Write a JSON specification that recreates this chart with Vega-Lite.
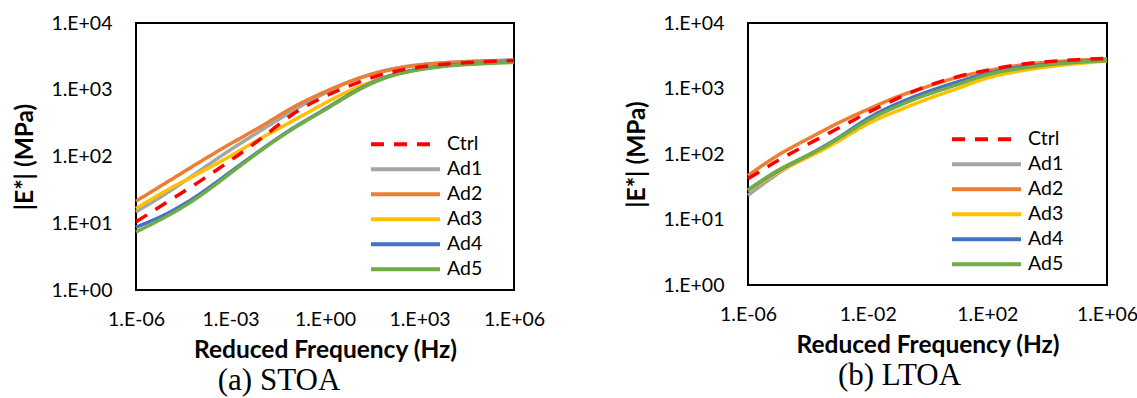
{
  "$schema": "https://vega.github.io/schema/vega-lite/v6.json",
  "background": "white",
  "padding": {"left": 11, "top": 12, "right": 0, "bottom": 0},
  "autosize": {"type": "pad"},
  "config": {
    "font": "Lato",
    "view": {"stroke": "black", "strokeWidth": 2},
    "axis": {
      "grid": false, "ticks": false, "tickSize": 0, "domain": false, "labelFlush": false,
      "labelFont": "Lato", "labelFontSize": 19.5, "labelColor": "black",
      "titleFont": "Lato", "titleFontSize": 24.5, "titleFontWeight": "bold", "titleColor": "black"
    },
    "legend": {
      "orient": "none", "title": null, "symbolType": "stroke", "symbolSize": 4761,
      "symbolStrokeWidth": 4, "clipHeight": 24.4, "rowPadding": 0, "labelOffset": 5,
      "labelFont": "Lato", "labelFontSize": 19.5, "labelColor": "black", "padding": 0, "symbolOffset": 0
    },
    "title": {"font": "Liberation Serif", "fontSize": 31, "fontWeight": "normal", "color": "black"}
  },
  "spacing": 77,
  "datasets": {
    "stoa": [
      {"f": 1e-6, "Ctrl": 10.5, "Ad1": 14.8, "Ad2": 21.4, "Ad3": 16.6, "Ad4": 8.71, "Ad5": 7.41},
      {"f": 1e-5, "Ctrl": 20.9, "Ad1": 28.8, "Ad2": 41.7, "Ad3": 31.6, "Ad4": 14.1, "Ad5": 12.9},
      {"f": 1e-4, "Ctrl": 41.7, "Ad1": 60.3, "Ad2": 81.3, "Ad3": 56.2, "Ad4": 26.9, "Ad5": 25.1},
      {"f": 1e-3, "Ctrl": 87.1, "Ad1": 126, "Ad2": 155, "Ad3": 102, "Ad4": 58.9, "Ad5": 56.2},
      {"f": 1e-2, "Ctrl": 191, "Ad1": 251, "Ad2": 288, "Ad3": 191, "Ad4": 129, "Ad5": 126},
      {"f": 1e-1, "Ctrl": 437, "Ad1": 490, "Ad2": 550, "Ad3": 347, "Ad4": 269, "Ad5": 263},
      {"f": 1, "Ctrl": 794, "Ad1": 891, "Ad2": 933, "Ad3": 631, "Ad4": 513, "Ad5": 501},
      {"f": 10, "Ctrl": 1259, "Ad1": 1445, "Ad2": 1445, "Ad3": 1072, "Ad4": 977, "Ad5": 955},
      {"f": 100, "Ctrl": 1778, "Ad1": 1995, "Ad2": 1950, "Ad3": 1585, "Ad4": 1585, "Ad5": 1549},
      {"f": 1000, "Ctrl": 2188, "Ad1": 2371, "Ad2": 2344, "Ad3": 2042, "Ad4": 2042, "Ad5": 1995},
      {"f": 1e4, "Ctrl": 2455, "Ad1": 2570, "Ad2": 2570, "Ad3": 2344, "Ad4": 2344, "Ad5": 2291},
      {"f": 1e5, "Ctrl": 2630, "Ad1": 2692, "Ad2": 2692, "Ad3": 2512, "Ad4": 2512, "Ad5": 2455},
      {"f": 1e6, "Ctrl": 2754, "Ad1": 2786, "Ad2": 2754, "Ad3": 2630, "Ad4": 2630, "Ad5": 2570}
    ],
    "ltoa": [
      {"f": 1e-6, "Ctrl": 41.7, "Ad1": 23.4, "Ad2": 46.8, "Ad3": 27.5, "Ad4": 28.2, "Ad5": 28.2},
      {"f": 1e-5, "Ctrl": 79.4, "Ad1": 50.1, "Ad2": 95.5, "Ad3": 52.5, "Ad4": 55.0, "Ad5": 56.2},
      {"f": 1e-4, "Ctrl": 141, "Ad1": 95.5, "Ad2": 170, "Ad3": 89.1, "Ad4": 95.5, "Ad5": 95.5},
      {"f": 1e-3, "Ctrl": 245, "Ad1": 174, "Ad2": 295, "Ad3": 155, "Ad4": 174, "Ad5": 170},
      {"f": 1e-2, "Ctrl": 427, "Ad1": 339, "Ad2": 479, "Ad3": 288, "Ad4": 347, "Ad5": 324},
      {"f": 1e-1, "Ctrl": 708, "Ad1": 575, "Ad2": 750, "Ad3": 457, "Ad4": 589, "Ad5": 537},
      {"f": 1, "Ctrl": 1096, "Ad1": 851, "Ad2": 1072, "Ad3": 692, "Ad4": 891, "Ad5": 812},
      {"f": 10, "Ctrl": 1514, "Ad1": 1202, "Ad2": 1479, "Ad3": 1000, "Ad4": 1259, "Ad5": 1148},
      {"f": 100, "Ctrl": 1905, "Ad1": 1660, "Ad2": 1862, "Ad3": 1445, "Ad4": 1698, "Ad5": 1622},
      {"f": 1000, "Ctrl": 2291, "Ad1": 2042, "Ad2": 2239, "Ad3": 1820, "Ad4": 2089, "Ad5": 1995},
      {"f": 1e4, "Ctrl": 2570, "Ad1": 2344, "Ad2": 2512, "Ad3": 2138, "Ad4": 2344, "Ad5": 2291},
      {"f": 1e5, "Ctrl": 2754, "Ad1": 2512, "Ad2": 2692, "Ad3": 2399, "Ad4": 2570, "Ad5": 2512},
      {"f": 1e6, "Ctrl": 2884, "Ad1": 2692, "Ad2": 2818, "Ad3": 2630, "Ad4": 2692, "Ad5": 2692}
    ]
  },
  "hconcat": [
    {
      "width": 378,
      "height": 267,
      "data": {"name": "stoa"},
      "transform": [{"fold": ["Ad1", "Ad2", "Ad3", "Ad4", "Ad5", "Ctrl"], "as": ["series", "E"]}],
      "mark": {"type": "line", "interpolate": "natural", "strokeWidth": 3.5},
      "encoding": {
        "x": {
          "field": "f", "type": "quantitative",
          "scale": {"type": "log", "domain": [1e-6, 1e6]},
          "axis": {
            "values": [1e-6, 1e-3, 1, 1e3, 1e6],
            "labelExpr": "'1.E' + (datum.value < 1 ? '-' : '+') + (abs(round(log(datum.value) / LN10)) < 10 ? '0' : '') + abs(round(log(datum.value) / LN10))",
            "title": "Reduced Frequency (Hz)", "labelPadding": 20, "titleY": 60, "titleBaseline": "middle"
          }
        },
        "y": {
          "field": "E", "type": "quantitative",
          "scale": {"type": "log", "domain": [1, 10000]},
          "axis": {
            "values": [1, 10, 100, 1000, 10000],
            "labelExpr": "'1.E' + (datum.value < 1 ? '-' : '+') + (abs(round(log(datum.value) / LN10)) < 10 ? '0' : '') + abs(round(log(datum.value) / LN10))",
            "title": "|E*|  (MPa)", "labelPadding": 24, "titleX": -111, "titleY": 133.5,
            "titleAngle": 270, "titleAlign": "center", "titleBaseline": "middle"
          }
        },
        "color": {
          "field": "series", "type": "nominal",
          "scale": {"domain": ["Ctrl", "Ad1", "Ad2", "Ad3", "Ad4", "Ad5"], "range": ["#FF0000", "#A5A5A5", "#ED7D31", "#FFC000", "#4472C4", "#70AD47"]},
          "legend": {"legendX": 233, "legendY": 109}
        },
        "strokeDash": {
          "field": "series", "type": "nominal",
          "scale": {"domain": ["Ctrl", "Ad1", "Ad2", "Ad3", "Ad4", "Ad5"], "range": [[13, 10], [1, 0], [1, 0], [1, 0], [1, 0], [1, 0]]},
          "legend": {"legendX": 233, "legendY": 109}
        }
      },
      "title": {"text": "(a) STOA", "orient": "bottom", "anchor": "middle", "dx": -46, "offset": 4}
    },
    {
      "width": 359,
      "height": 262,
      "data": {"name": "ltoa"},
      "transform": [{"fold": ["Ad1", "Ad2", "Ad3", "Ad4", "Ad5", "Ctrl"], "as": ["series", "E"]}],
      "mark": {"type": "line", "interpolate": "natural", "strokeWidth": 3.5},
      "encoding": {
        "x": {
          "field": "f", "type": "quantitative",
          "scale": {"type": "log", "domain": [1e-6, 1e6]},
          "axis": {
            "values": [1e-6, 1e-2, 1e2, 1e6],
            "labelExpr": "'1.E' + (datum.value < 1 ? '-' : '+') + (abs(round(log(datum.value) / LN10)) < 10 ? '0' : '') + abs(round(log(datum.value) / LN10))",
            "title": "Reduced Frequency (Hz)", "labelPadding": 20, "titleY": 60, "titleBaseline": "middle"
          }
        },
        "y": {
          "field": "E", "type": "quantitative",
          "scale": {"type": "log", "domain": [1, 10000]},
          "axis": {
            "values": [1, 10, 100, 1000, 10000],
            "labelExpr": "'1.E' + (datum.value < 1 ? '-' : '+') + (abs(round(log(datum.value) / LN10)) < 10 ? '0' : '') + abs(round(log(datum.value) / LN10))",
            "title": "|E*|  (MPa)", "labelPadding": 24, "titleX": -111, "titleY": 131,
            "titleAngle": 270, "titleAlign": "center", "titleBaseline": "middle"
          }
        },
        "color": {
          "field": "series", "type": "nominal",
          "scale": {"domain": ["Ctrl", "Ad1", "Ad2", "Ad3", "Ad4", "Ad5"], "range": ["#FF0000", "#A5A5A5", "#ED7D31", "#FFC000", "#4472C4", "#70AD47"]},
          "legend": {"legendX": 202, "legendY": 104}
        },
        "strokeDash": {
          "field": "series", "type": "nominal",
          "scale": {"domain": ["Ctrl", "Ad1", "Ad2", "Ad3", "Ad4", "Ad5"], "range": [[13, 10], [1, 0], [1, 0], [1, 0], [1, 0], [1, 0]]},
          "legend": {"legendX": 202, "legendY": 104}
        }
      },
      "title": {"text": "(b) LTOA", "orient": "bottom", "anchor": "middle", "dx": -28, "offset": 4}
    }
  ],
  "resolve": {
    "scale": {"color": "independent", "strokeDash": "independent"},
    "legend": {"color": "independent", "strokeDash": "independent"}
  }
}
